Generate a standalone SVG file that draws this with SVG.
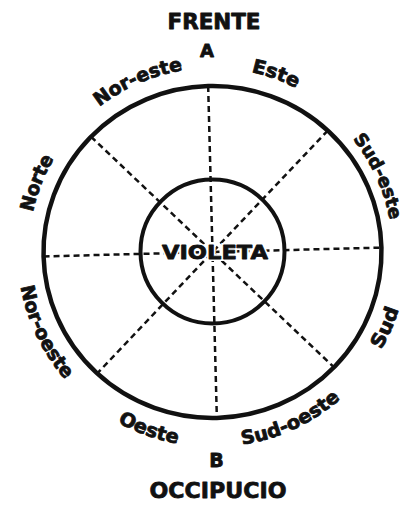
<svg xmlns="http://www.w3.org/2000/svg" width="407" height="505" viewBox="0 0 407 505">
<style>
.t{font-family:"DejaVu Sans","Liberation Sans",Arial,sans-serif;font-weight:bold;fill:#111;stroke:#111;stroke-width:0.8;stroke-linejoin:round;}
.lab{font-size:19px;}
.ring{fill:none;stroke:#111;}
.dash{stroke:#111;stroke-width:2.5;stroke-dasharray:6 4;fill:none;}
</style>
<defs>
<path id="top" d="M 28.5 252 A 184 184 0 1 1 396.5 252 A 184 184 0 1 1 28.5 252"/>
<path id="top2" d="M 32.5 252 A 180 180 0 1 1 392.5 252 A 180 180 0 1 1 32.5 252"/>
<path id="bot" d="M 17.5 252 A 195 195 0 1 0 407.5 252 A 195 195 0 1 0 17.5 252"/>
</defs>
<rect width="407" height="505" fill="#fff"/>
<g id="connectors" transform="rotate(-1.5 212.5 252)">
<line class="dash" x1="212.5" y1="86" x2="212.5" y2="418"/>
<line class="dash" x1="43.5" y1="252" x2="381.5" y2="252"/>
<line class="dash" x1="94.1" y1="133.6" x2="330.9" y2="370.4"/>
<line class="dash" x1="330.9" y1="133.6" x2="94.1" y2="370.4"/>
</g>
<g id="outer" transform="rotate(-1.5 212.5 252)">
<ellipse class="ring" cx="212.5" cy="252" rx="169" ry="166" stroke-width="4.5"/>
</g>
<g id="inner">
<circle class="ring" cx="212.5" cy="251.5" r="72" stroke-width="4"/>
<text x="215" y="259" font-family="DejaVu Sans, sans-serif" font-weight="bold" font-size="20" text-anchor="middle" textLength="106" lengthAdjust="spacingAndGlyphs" fill="#fff" stroke="#fff" stroke-width="4">VIOLETA</text>
<text class="t" x="215" y="259" font-size="20" text-anchor="middle" textLength="106" lengthAdjust="spacingAndGlyphs">VIOLETA</text>
</g>
<g id="frente">
<text class="t" x="214" y="29" font-size="21" text-anchor="middle" textLength="93" lengthAdjust="spacingAndGlyphs">FRENTE</text>
<text class="t" x="207" y="57" font-size="18" text-anchor="middle">A</text>
</g>
<g id="occipucio">
<text class="t" x="216.5" y="467" font-size="19" text-anchor="middle">B</text>
<text class="t" x="218" y="498" font-size="22" text-anchor="middle" textLength="137" lengthAdjust="spacingAndGlyphs">OCCIPUCIO</text>
</g>
<g id="norte"><text class="t lab"><textPath href="#top" startOffset="69" text-anchor="middle" textLength="58" lengthAdjust="spacingAndGlyphs">Norte</textPath></text></g>
<g id="nor-este"><text class="t lab"><textPath href="#top" startOffset="213" text-anchor="middle" textLength="92" lengthAdjust="spacingAndGlyphs">Nor-este</textPath></text></g>
<g id="este"><text class="t lab"><textPath href="#top" startOffset="352" text-anchor="middle" textLength="48" lengthAdjust="spacingAndGlyphs">Este</textPath></text></g>
<g id="sud-este"><text class="t" font-size="18"><textPath href="#top2" startOffset="488" text-anchor="middle" textLength="90" lengthAdjust="spacingAndGlyphs">Sud-este</textPath></text></g>
<g id="nor-oeste"><text class="t lab"><textPath href="#bot" startOffset="87" text-anchor="middle" textLength="104" lengthAdjust="spacingAndGlyphs">Nor-oeste</textPath></text></g>
<g id="oeste"><text class="t lab"><textPath href="#bot" startOffset="239" text-anchor="middle" textLength="64" lengthAdjust="spacingAndGlyphs">Oeste</textPath></text></g>
<g id="sud-oeste"><text class="t lab"><textPath href="#bot" startOffset="391" text-anchor="middle" textLength="110" lengthAdjust="spacingAndGlyphs">Sud-oeste</textPath></text></g>
<g id="sud"><text class="t lab"><textPath href="#bot" startOffset="532" text-anchor="middle" textLength="44" lengthAdjust="spacingAndGlyphs">Sud</textPath></text></g>
</svg>
